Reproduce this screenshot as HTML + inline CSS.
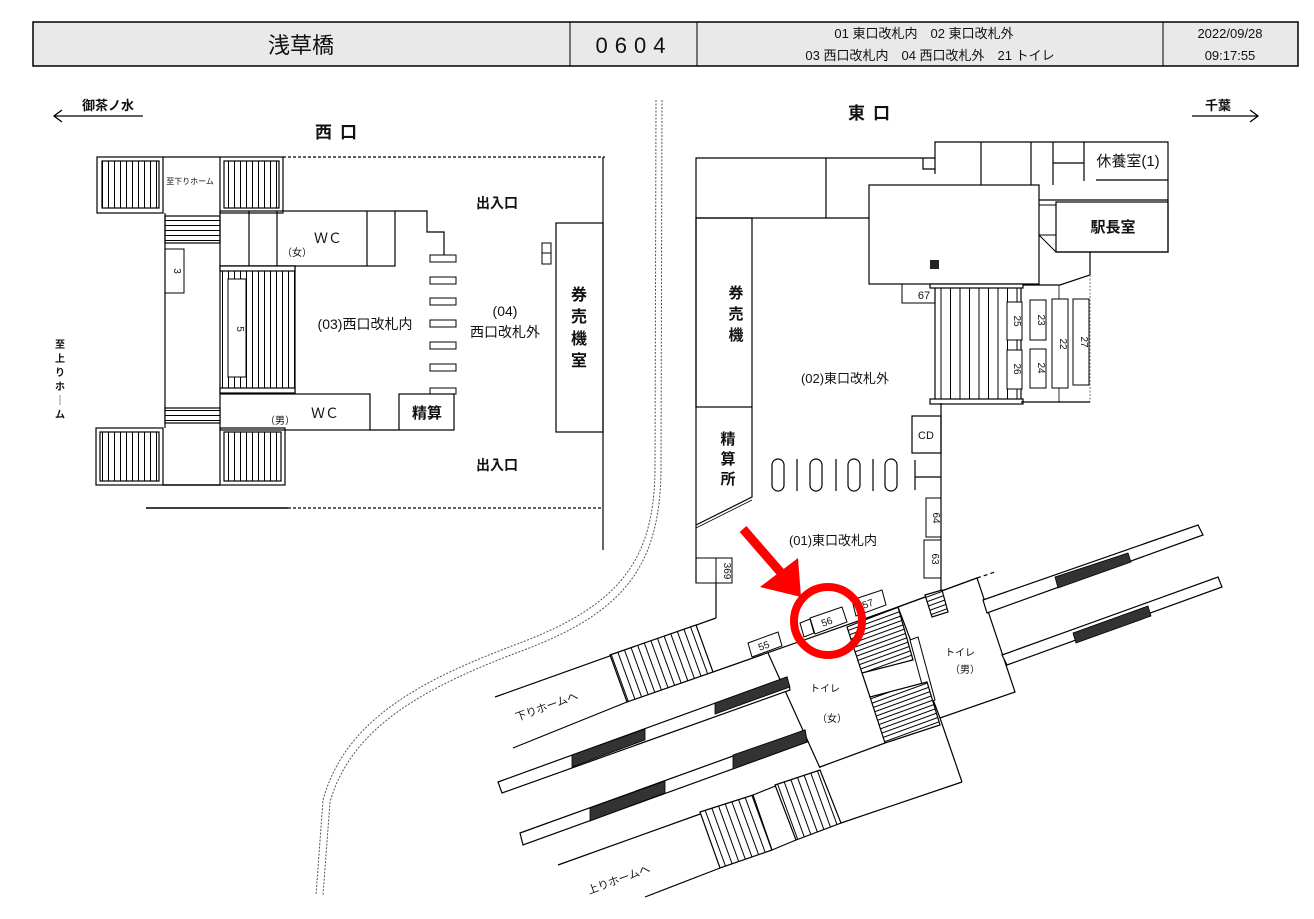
<!DOCTYPE html>
<html><head><meta charset="utf-8"><style>
html,body{margin:0;padding:0;background:#fff}
svg{display:block}
text{font-family:"Liberation Sans","Noto Sans CJK JP",sans-serif;fill:#111}
</style></head><body>
<svg width="1314" height="919" viewBox="0 0 1314 919" xmlns="http://www.w3.org/2000/svg">
<defs>
<pattern id="pv6" width="6" height="10" patternUnits="userSpaceOnUse"><rect width="6" height="10" fill="#fff"/><line x1="0.5" y1="0" x2="0.5" y2="10" stroke="#000" stroke-width="1"/></pattern>
<pattern id="pv9" width="9.5" height="10" patternUnits="userSpaceOnUse"><rect width="9.5" height="10" fill="#fff"/><line x1="0.5" y1="0" x2="0.5" y2="10" stroke="#000" stroke-width="1"/></pattern>
<pattern id="ph5" width="10" height="5" patternUnits="userSpaceOnUse"><rect width="10" height="5" fill="#fff"/><line x1="0" y1="0.5" x2="10" y2="0.5" stroke="#000" stroke-width="1"/></pattern>
<pattern id="prv" width="7" height="10" patternUnits="userSpaceOnUse" patternTransform="rotate(-20)"><rect width="7" height="10" fill="#fff"/><line x1="0.5" y1="0" x2="0.5" y2="10" stroke="#000" stroke-width="1"/></pattern>
<pattern id="prh" width="10" height="4.5" patternUnits="userSpaceOnUse" patternTransform="rotate(-20)"><rect width="10" height="4.5" fill="#fff"/><line x1="0" y1="0.5" x2="10" y2="0.5" stroke="#000" stroke-width="1"/></pattern>
</defs>

<!-- header -->
<rect x="33" y="22" width="1265" height="44" fill="#e9e9e9" stroke="#000" stroke-width="1.5"/>
<line x1="570" y1="22" x2="570" y2="66" stroke="#000"/>
<line x1="697" y1="22" x2="697" y2="66" stroke="#000"/>
<line x1="1163" y1="22" x2="1163" y2="66" stroke="#000"/>
<text x="301" y="53" font-size="22" text-anchor="middle">浅草橋</text>
<text x="634" y="53" font-size="22" text-anchor="middle" letter-spacing="7">0604</text>
<text x="924" y="38" font-size="13" text-anchor="middle">01 東口改札内　02 東口改札外</text>
<text x="930" y="60" font-size="13" text-anchor="middle">03 西口改札内　04 西口改札外　21 トイレ</text>
<text x="1230" y="38" font-size="13" text-anchor="middle">2022/09/28</text>
<text x="1230" y="60" font-size="13" text-anchor="middle">09:17:55</text>

<!-- direction arrows -->
<g stroke="#000" stroke-width="1.3" fill="none">
<line x1="54" y1="116" x2="143" y2="116"/><polyline points="62,110 54,116 62,122"/>
<line x1="1192" y1="116" x2="1258" y2="116"/><polyline points="1250,110 1258,116 1250,122"/>
</g>
<text x="108" y="110" font-size="13" font-weight="bold" text-anchor="middle">御茶ノ水</text>
<text x="1218" y="110" font-size="13" font-weight="bold" text-anchor="middle">千葉</text>
<text x="340" y="138" font-size="17" font-weight="bold" text-anchor="middle" letter-spacing="8">西口</text>
<text x="873" y="119" font-size="17" font-weight="bold" text-anchor="middle" letter-spacing="8">東口</text>

<!-- dashed double curve -->
<g fill="none" stroke="#555" stroke-width="1" stroke-dasharray="2,1.5">
<path d="M656,100 L655,470 C654,560 620,605 520,643 C420,680 345,720 323,800 L316,895"/>
<path d="M662,100 L661,470 C660,565 625,612 524,650 C428,686 352,725 330,802 L323,895"/>
</g>

<!-- ===== WEST ===== -->
<g stroke="#000" stroke-width="1.2" fill="none">
<line x1="283" y1="157" x2="605" y2="157" stroke-dasharray="3,2"/>
<line x1="603" y1="157" x2="603" y2="550"/>
<line x1="146" y1="508" x2="288" y2="508" stroke-width="1.6"/>
<line x1="288" y1="508" x2="603" y2="508" stroke-dasharray="3,2"/>
<!-- top stair block -->
<rect x="97" y="157" width="66" height="56"/>
<rect x="220" y="157" width="63" height="56"/>
<line x1="163" y1="157" x2="220" y2="157"/>
<rect x="102" y="161" width="57" height="47" fill="url(#pv6)"/>
<rect x="224" y="161" width="55" height="47" fill="url(#pv6)"/>
<rect x="165" y="216" width="55" height="27" fill="url(#ph5)"/>
<line x1="165" y1="213" x2="165" y2="428"/>
<!-- female WC -->
<rect x="220" y="211" width="175" height="55"/>
<line x1="249" y1="211" x2="249" y2="266"/><line x1="277" y1="211" x2="277" y2="266"/><line x1="367" y1="211" x2="367" y2="266"/>
<polyline points="395,211 427,211 427,232 444,232 444,255"/>
<rect x="165" y="249" width="19" height="44" stroke-width="1"/>
<!-- central stair -->
<rect x="220" y="266" width="75" height="127" fill="url(#pv6)"/>
<rect x="220" y="266" width="75" height="5" fill="#fff"/>
<rect x="220" y="388" width="75" height="5" fill="#fff"/>
<rect x="228" y="279" width="18" height="98" fill="#fff" stroke-width="1"/>
<!-- male WC & 精算 -->
<rect x="220" y="394" width="150" height="36"/>
<rect x="165" y="408" width="55" height="15" fill="url(#ph5)"/>
<rect x="399" y="394" width="55" height="36"/>
<line x1="370" y1="430" x2="399" y2="430"/>
<rect x="430" y="388" width="26" height="6" stroke-width="1"/>
<!-- gates -->
<rect x="430" y="255" width="26" height="7" stroke-width="1"/>
<rect x="430" y="277" width="26" height="7" stroke-width="1"/>
<rect x="430" y="298" width="26" height="7" stroke-width="1"/>
<rect x="430" y="320" width="26" height="7" stroke-width="1"/>
<rect x="430" y="342" width="26" height="7" stroke-width="1"/>
<rect x="430" y="364" width="26" height="7" stroke-width="1"/>
<!-- bottom stair block -->
<rect x="96" y="428" width="67" height="57"/>
<rect x="220" y="428" width="65" height="57"/>
<line x1="163" y1="485" x2="220" y2="485" stroke-width="1.6"/>
<rect x="100" y="432" width="59" height="49" fill="url(#pv6)"/>
<rect x="224" y="432" width="57" height="49" fill="url(#pv6)"/>
<!-- 券売機室 -->
<rect x="556" y="223" width="47" height="209"/>
<rect x="542" y="243" width="9" height="21" stroke-width="1"/>
<line x1="542" y1="253" x2="551" y2="253" stroke-width="1"/>
</g>
<text x="190" y="184" font-size="8" text-anchor="middle">至下りホーム</text>
<text x="174" y="271" font-size="10" text-anchor="middle" transform="rotate(90 174 271)">3</text>
<text x="237" y="329" font-size="10" text-anchor="middle" transform="rotate(90 237 329)">5</text>
<text x="328" y="243" font-size="14" text-anchor="middle">ＷＣ</text>
<text x="297" y="256" font-size="10" text-anchor="middle">（女）</text>
<text x="325" y="418" font-size="14" text-anchor="middle">ＷＣ</text>
<text x="280" y="424" font-size="10" text-anchor="middle">（男）</text>
<text x="427" y="418" font-size="15" font-weight="bold" text-anchor="middle">精算</text>
<text x="365" y="329" font-size="14" text-anchor="middle">(03)西口改札内</text>
<text x="505" y="316" font-size="14" text-anchor="middle">(04)</text>
<text x="505" y="337" font-size="14" text-anchor="middle">西口改札外</text>
<text x="497" y="208" font-size="14" font-weight="bold" text-anchor="middle">出入口</text>
<text x="497" y="470" font-size="14" font-weight="bold" text-anchor="middle">出入口</text>
<text x="579" y="300" font-size="16" font-weight="bold" text-anchor="middle">券<tspan x="579" dy="22">売</tspan><tspan x="579" dy="22">機</tspan><tspan x="579" dy="22">室</tspan></text>
<text x="60" y="348" font-size="10" font-weight="bold" text-anchor="middle">至<tspan x="60" dy="14">上</tspan><tspan x="60" dy="14">り</tspan><tspan x="60" dy="14">ホ</tspan><tspan x="60" dy="14">｜</tspan><tspan x="60" dy="14">ム</tspan></text>

<!-- ===== EAST ===== -->
<g stroke="#000" stroke-width="1.2" fill="none">
<polyline points="696,583 696,158 935,158"/>
<polyline points="935,174 935,142 1168,142 1168,252 1056,252"/>
<polyline points="923,158 923,169 935,169"/>
<line x1="696" y1="218" x2="869" y2="218"/>
<line x1="826" y1="158" x2="826" y2="218"/>
<rect x="869" y="185" width="170" height="99"/>
<line x1="981" y1="142" x2="981" y2="185"/>
<line x1="1031" y1="142" x2="1031" y2="185"/>
<line x1="1053" y1="142" x2="1053" y2="185"/>
<line x1="1053" y1="163" x2="1084" y2="163"/>
<line x1="1084" y1="142" x2="1084" y2="181"/>
<line x1="1096" y1="180" x2="1168" y2="180"/>
<line x1="1039" y1="200" x2="1168" y2="200"/>
<rect x="1056" y="202" width="112" height="50"/>
<rect x="1039" y="205" width="17" height="30" stroke-width="1"/>
<line x1="1039" y1="235" x2="1056" y2="252" stroke-width="1"/>
<polyline points="1090,252 1090,275 1060,285 1022,285"/>
<line x1="1090" y1="275" x2="1090" y2="402" stroke="#888" stroke-dasharray="2,1.5"/>
<rect x="696" y="218" width="56" height="189"/>
<polyline points="752,407 752,497 696,525"/>
<line x1="752" y1="500" x2="696" y2="528" stroke-width="0.8"/>
<rect x="696" y="558" width="20" height="25" stroke-width="1"/>
<rect x="716" y="558" width="16" height="25" stroke-width="1"/>
<line x1="716" y1="583" x2="716" y2="618"/>
<rect x="902" y="284" width="44" height="19" stroke-width="1"/>
<rect x="935" y="285" width="86" height="118" fill="url(#pv9)"/>
<rect x="930" y="284" width="93" height="4" fill="#fff"/>
<rect x="930" y="399" width="93" height="5" fill="#fff"/>
<line x1="1021" y1="402" x2="1090" y2="402"/>
<line x1="1059" y1="285" x2="1059" y2="299" stroke-width="0.8"/>
<line x1="1059" y1="388" x2="1059" y2="402" stroke-width="0.8"/>
<rect x="1007" y="302" width="15" height="38" fill="#fff" stroke-width="1"/>
<rect x="1007" y="350" width="15" height="39" fill="#fff" stroke-width="1"/>
<rect x="1030" y="300" width="16" height="40" stroke-width="1"/>
<rect x="1030" y="349" width="16" height="39" stroke-width="1"/>
<rect x="1052" y="299" width="16" height="89" stroke-width="1"/>
<rect x="1073" y="299" width="16" height="86" stroke-width="1"/>
<line x1="941" y1="403" x2="941" y2="592"/>
<rect x="912" y="416" width="29" height="37"/>
<line x1="915" y1="460" x2="915" y2="490"/>
<line x1="915" y1="477" x2="941" y2="477"/>
<rect x="772" y="459" width="12" height="32" rx="6"/>
<rect x="810" y="459" width="12" height="32" rx="6"/>
<rect x="848" y="459" width="12" height="32" rx="6"/>
<rect x="885" y="459" width="12" height="32" rx="6"/>
<line x1="797" y1="459" x2="797" y2="491"/>
<line x1="836" y1="459" x2="836" y2="491"/>
<line x1="873" y1="459" x2="873" y2="491"/>
<rect x="926" y="498" width="15" height="39" stroke-width="1"/>
<rect x="924" y="540" width="17" height="38" stroke-width="1"/>
</g>
<rect x="930" y="260" width="9" height="9" fill="#222"/>
<text x="1128" y="166" font-size="15" text-anchor="middle">休養室(1)</text>
<text x="1113" y="232" font-size="15" font-weight="bold" text-anchor="middle">駅長室</text>
<text x="924" y="299" font-size="11" text-anchor="middle">67</text>
<g font-size="10">
<text x="1014" y="321" text-anchor="middle" transform="rotate(90 1014 321)">25</text>
<text x="1014" y="369" text-anchor="middle" transform="rotate(90 1014 369)">26</text>
<text x="1038" y="320" text-anchor="middle" transform="rotate(90 1038 320)">23</text>
<text x="1038" y="368" text-anchor="middle" transform="rotate(90 1038 368)">24</text>
<text x="1060" y="344" text-anchor="middle" transform="rotate(90 1060 344)">22</text>
<text x="1081" y="342" text-anchor="middle" transform="rotate(90 1081 342)">27</text>
<text x="933" y="518" text-anchor="middle" transform="rotate(90 933 518)">64</text>
<text x="932" y="559" text-anchor="middle" transform="rotate(90 932 559)">63</text>
<text x="724" y="571" text-anchor="middle" transform="rotate(90 724 571)">369</text>
</g>
<text x="926" y="439" font-size="11" text-anchor="middle">CD</text>
<text x="736" y="298" font-size="15" font-weight="bold" text-anchor="middle">券<tspan x="736" dy="21">売</tspan><tspan x="736" dy="21">機</tspan></text>
<text x="728" y="444" font-size="15" font-weight="bold" text-anchor="middle">精<tspan x="728" dy="20">算</tspan><tspan x="728" dy="20">所</tspan></text>
<text x="845" y="383" font-size="13" text-anchor="middle">(02)東口改札外</text>
<text x="833" y="545" font-size="13" text-anchor="middle">(01)東口改札内</text>

<!-- ===== TRACKS ===== -->
<g stroke="#000" stroke-width="1.2" fill="none">
<line x1="495" y1="697" x2="716" y2="618"/>
<polyline points="513,748 627,702"/>
<polyline points="713,672 898,607 977,578"/>
<line x1="977" y1="578" x2="995" y2="572" stroke-dasharray="4,3"/>
<line x1="558" y1="865" x2="703" y2="813"/>
<line x1="753" y1="795" x2="778" y2="785"/>
<line x1="645" y1="897" x2="720" y2="868"/>
<line x1="772" y1="850" x2="796" y2="840"/>
<line x1="841" y1="823" x2="962" y2="782"/>
<line x1="940" y1="718" x2="962" y2="782"/>
<!-- women box -->
<polyline points="768,653 820,768"/>
<polyline points="820,767 885,743"/>
<line x1="862" y1="673" x2="870" y2="697"/>
<!-- men box -->
<polygon points="898,607 977,578 1015,692 940,718" fill="#fff"/>
<polygon points="910,640 918,637 935,700 927,703" fill="#fff" stroke-width="1"/>
<!-- stairs -->
<polygon points="610,655 696,625 713,672 627,702" fill="url(#prv)"/>
<polygon points="700,812 753,795 772,850 720,868" fill="url(#prv)"/>
<polygon points="775,785 820,770 841,823 796,840" fill="url(#prv)"/>
<polygon points="847,627 898,607 913,660 862,673" fill="url(#prh)"/>
<polygon points="870,697 927,682 940,725 885,743" fill="url(#prh)"/>
<polygon points="925,595 942,590 948,612 932,617" fill="url(#prh)"/>
<!-- bands -->
<polygon points="498,782 787,677 790,690 502,793" fill="#fff"/>
<polygon points="520,833 805,730 807,742 523,845" fill="#fff"/>
<polygon points="983,600 1198,525 1203,535 987,613" fill="#fff"/>
<polygon points="1002,655 1218,577 1222,587 1007,665" fill="#fff"/>
</g>
<g fill="#333" stroke="#000" stroke-width="0.8">
<polygon points="572,755 645,729 645,740 572,767"/>
<polygon points="715,703 787,677 790,687 715,714"/>
<polygon points="590,808 665,781 665,793 590,821"/>
<polygon points="733,755 805,730 807,742 733,769"/>
<polygon points="1055,577 1128,553 1131,562 1058,588"/>
<polygon points="1073,633 1148,606 1151,616 1076,643"/>
</g>
<!-- numbered boxes -->
<g stroke="#000" stroke-width="1" fill="#fff">
<polygon points="748,643 778,632 782,646 752,657"/>
<polygon points="810,618 842,607 847,622 815,634"/>
<polygon points="852,600 882,590 886,605 856,616"/>
<polygon points="800,623 810,619 814,633 804,637"/>
</g>
<g font-size="10">
<text x="765" y="649" text-anchor="middle" transform="rotate(-20 765 649)">55</text>
<text x="828" y="625" text-anchor="middle" transform="rotate(-20 828 625)">56</text>
<text x="869" y="607" text-anchor="middle" transform="rotate(-20 869 607)">57</text>
</g>
<text x="548" y="710" font-size="11" text-anchor="middle" transform="rotate(-20 548 710)">下りホームへ</text>
<text x="620" y="883" font-size="11" text-anchor="middle" transform="rotate(-20 620 883)">上りホームへ</text>
<text x="825" y="692" font-size="10" text-anchor="middle">トイレ</text>
<text x="832" y="722" font-size="10" text-anchor="middle">（女）</text>
<text x="960" y="656" font-size="10" text-anchor="middle">トイレ</text>
<text x="965" y="673" font-size="10" text-anchor="middle">（男）</text>

<!-- red marker -->
<circle cx="828" cy="621" r="34" fill="none" stroke="#f00" stroke-width="8"/>
<line x1="743" y1="529" x2="783" y2="575" stroke="#f00" stroke-width="9"/>
<polygon points="760,587 798,558 801,597" fill="#f00"/>
</svg>
</body></html>
